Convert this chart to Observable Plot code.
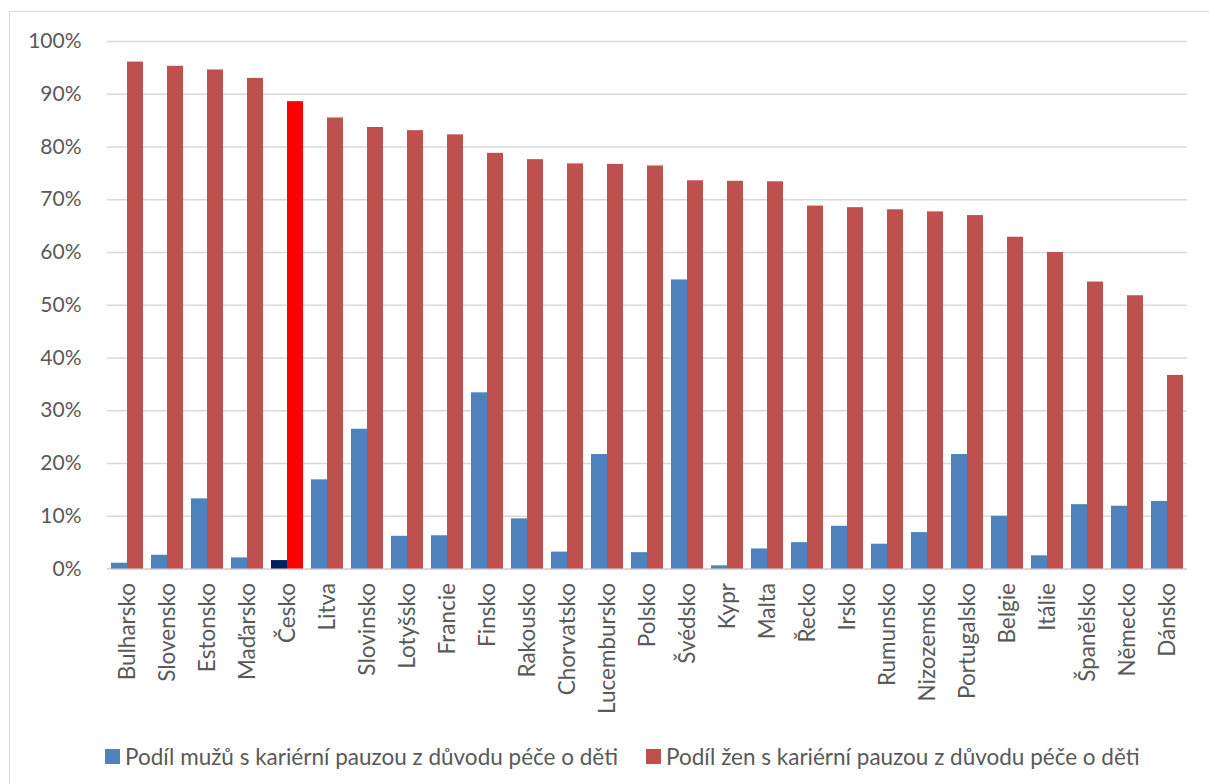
<!DOCTYPE html>
<html>
<head>
<meta charset="utf-8">
<script src="https://cdn.jsdelivr.net/npm/d3@7"></script>
<script src="https://cdn.jsdelivr.net/npm/@observablehq/plot@0.6"></script>
<style>
  html, body { margin: 0; padding: 0; background: #fff; }
  body { width: 1209px; height: 784px; position: relative; overflow: hidden; font-family: Lato, sans-serif; color: #595959; }
  #frame { position: absolute; left: 9px; top: 11px; width: 1400px; height: 1000px; border-left: 1.5px solid #d9d9d9; border-top: 1.5px solid #d9d9d9; }
  #chart { position: absolute; left: 0; top: 0; }
  .legend-item { position: absolute; top: 743px; display: flex; align-items: center; font-size: 22.5px; white-space: nowrap; }
  .legend-item .sw { width: 15px; height: 15px; margin-right: 5px; display: inline-block; }
</style>
</head>
<body>
<div id="frame"></div>
<div id="chart"></div>
<div id="legend"></div>
<script>
const countries = ["Bulharsko","Slovensko","Estonsko","Maďarsko","Česko","Litva","Slovinsko","Lotyšsko","Francie","Finsko","Rakousko","Chorvatsko","Lucembursko","Polsko","Švédsko","Kypr","Malta","Řecko","Irsko","Rumunsko","Nizozemsko","Portugalsko","Belgie","Itálie","Španělsko","Německo","Dánsko"];
const seriesKeys = ["muži", "ženy"];
const seriesNames = ["Podíl mužů s kariérní pauzou z důvodu péče o děti", "Podíl žen s kariérní pauzou z důvodu péče o děti"];
const menShare = [1.1, 2.6, 13.3, 2.1, 1.6, 16.9, 26.5, 6.2, 6.3, 33.4, 9.5, 3.2, 21.7, 3.1, 54.8, 0.6, 3.8, 5.0, 8.1, 4.7, 6.9, 21.7, 10.0, 2.5, 12.2, 11.9, 12.8];
const womenShare = [96.1, 95.3, 94.6, 93.0, 88.6, 85.5, 83.7, 83.1, 82.3, 78.8, 77.6, 76.8, 76.7, 76.4, 73.6, 73.5, 73.4, 68.8, 68.5, 68.1, 67.7, 67.0, 62.9, 60.0, 54.4, 51.8, 36.7];
const yTickValues = [0, 10, 20, 30, 40, 50, 60, 70, 80, 90, 100];
const yTickLabels = ["0%", "10%", "20%", "30%", "40%", "50%", "60%", "70%", "80%", "90%", "100%"];
const highlight = "Česko";
const seriesColors = ["#4F81BD", "#C0504D"];
const highlightColors = ["#002060", "#FF0000"];

const rows = countries.flatMap((c, i) => [
  {country: c, series: seriesKeys[0], value: menShare[i] / 100},
  {country: c, series: seriesKeys[1], value: womenShare[i] / 100}
]);
const ticks = yTickValues.map(v => v / 100);
const fmt = d => yTickLabels[yTickValues.indexOf(Math.round(d * 100))];

const plot = Plot.plot({
  width: 1209,
  height: 700,
  marginTop: 41,
  marginBottom: 131.5,
  marginLeft: 103,
  marginRight: 18,
  style: {fontFamily: "Lato, sans-serif", fontSize: "21px", color: "#595959", background: "transparent", overflow: "visible"},
  fx: {domain: countries, padding: 0, label: null},
  x: {domain: seriesKeys, paddingInner: 0, paddingOuter: 0.25, axis: null},
  y: {domain: [0, 1], label: null},
  color: {type: "identity"},
  marks: [
    Plot.gridY(ticks, {stroke: "#d9d9d9", strokeOpacity: 1, strokeWidth: 1.4}),
    Plot.ruleY([0], {stroke: "#d9d9d9", strokeWidth: 2}),
    Plot.barY(rows, {
      fx: "country", x: "series", y: "value",
      fill: d => {
        const k = seriesKeys.indexOf(d.series);
        return d.country === highlight ? highlightColors[k] : seriesColors[k];
      }
    }),
    Plot.axisY(ticks, {tickSize: 0, tickPadding: 26, tickFormat: fmt, label: null, fill: "#595959", fontSize: 21}),
    Plot.axisFx({anchor: "bottom", tickRotate: -90, tickSize: 0, tickPadding: 14, label: null, fill: "#595959", fontSize: 22.5})
  ]
});
document.getElementById("chart").appendChild(plot);

const legend = document.getElementById("legend");
const legendLeft = [105, 646];
seriesNames.forEach((name, i) => {
  const item = document.createElement("div");
  item.className = "legend-item";
  item.style.left = legendLeft[i] + "px";
  const sw = document.createElement("span");
  sw.className = "sw";
  sw.style.background = seriesColors[i];
  const t = document.createElement("span");
  t.textContent = name;
  item.appendChild(sw);
  item.appendChild(t);
  legend.appendChild(item);
});
</script>
</body>
</html>
